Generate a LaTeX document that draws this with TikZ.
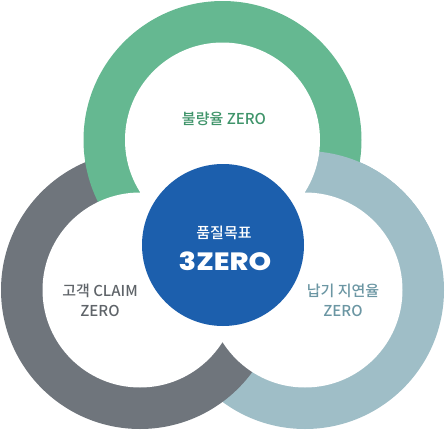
\documentclass[tikz,border=0pt]{standalone}
\usepackage{fontspec}
\newfontfamily\kr{Noto Sans CJK KR}[UprightFont={* Medium}]
\newfontfamily\pop{Poppins}[UprightFont={* ExtraBold}, FakeStretch=1.15]
\definecolor{rgreen}{HTML}{65B891}
\definecolor{rgray}{HTML}{6F757C}
\definecolor{rblue}{HTML}{9FBEC7}
\definecolor{cblue}{HTML}{1C5FAD}
\definecolor{tgreen}{HTML}{3F946A}
\definecolor{tgray}{HTML}{5F6469}
\definecolor{tblue}{HTML}{6B96A3}
\tikzset{
  lbl/.style={align=center, inner sep=0pt, font=\kr\fontsize{15}{20}\selectfont},
}
\begin{document}
\begin{tikzpicture}[x=1pt,y=-1pt]
\useasboundingbox (0,0) rectangle (445,429);
\coordinate (G) at (222.5,140);
\coordinate (L) at (140,290);
\coordinate (R) at (305,290);
% outer discs
\fill[rblue] (R) circle (139pt);
\fill[rgray] (L) circle (139pt);
\fill[rgreen] (G) circle (139pt);
\begin{scope}
  \clip (280,0) rectangle (445,250);
  \fill[rblue] (R) circle (139pt);
\end{scope}
% inner white discs
\fill[white] (G) circle (97.5pt) (L) circle (97.5pt) (R) circle (97.5pt);
% centre
\node[circle, fill=cblue, minimum size=162pt, inner sep=0pt] (C) at (223,245) {};
\node[lbl, text=white, font=\kr\fontsize{15}{18}\selectfont] (goal) at (224,233) {품질목표};
\node[inner sep=0pt, text=white, font=\pop\fontsize{25}{28}\selectfont] (zero) at (225,261) {3ZERO};
% labels
\node[lbl, text=tgreen] (t1) at (224,119) {불량율 ZERO};
\node[lbl, text=tgray] (t2) at (100,300) {고객 CLAIM\\ZERO};
\node[lbl, text=tblue] (t3) at (343,300) {납기 지연율\\ZERO};
\end{tikzpicture}
\end{document}
